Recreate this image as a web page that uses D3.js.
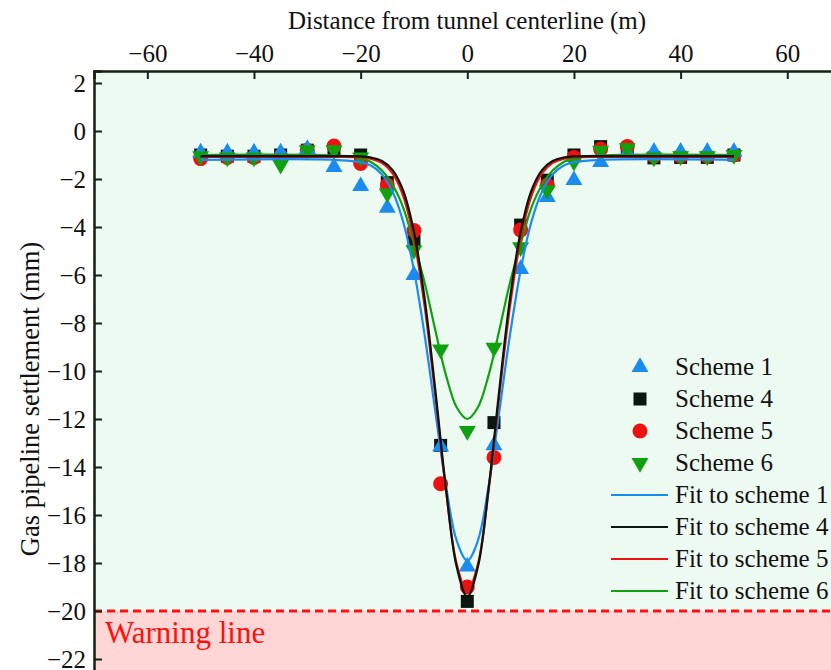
<!DOCTYPE html>
<html>
<head>
<meta charset="utf-8">
<script src="https://cdn.jsdelivr.net/npm/d3@7.9.0/dist/d3.min.js"></script>
<style>
  html, body { margin: 0; padding: 0; background: #fff; overflow: hidden; }
  svg { display: block; font-family: "Liberation Serif", "DejaVu Serif", serif; }
</style>
</head>
<body>
<svg id="chart" width="831" height="670"></svg>
<script>
// measured points, x = distance (m), y = settlement (mm)
var distances = [-50, -45, -40, -35, -30, -25, -20, -15, -10, -5, 0, 5, 10, 15, 20, 25, 30, 35, 40, 45, 50]
var scheme1 = [-0.9, -0.9, -0.9, -0.9, -0.75, -1.5, -2.3, -3.2, -6.0, -13.15, -18.15, -13.1, -5.75, -2.75, -2.05, -1.3, -0.9, -0.87, -0.87, -0.87, -0.87]
var scheme4 = [-1.0, -1.05, -1.05, -1.0, -0.8, -0.8, -1.0, -2.15, -4.57, -13.1, -19.6, -12.15, -3.92, -2.05, -1.0, -0.65, -0.75, -1.12, -1.1, -1.1, -1.0]
var scheme5 = [-1.15, -1.1, -1.1, -1.05, -0.8, -0.63, -1.35, -2.25, -4.15, -14.7, -19.0, -13.6, -4.12, -2.25, -1.1, -0.75, -0.65, -1.05, -1.05, -1.05, -1.0]
var scheme6 = [-1.05, -1.1, -1.1, -1.4, -0.8, -0.8, -1.1, -2.6, -4.96, -9.1, -12.5, -9.03, -4.84, -2.46, -1.28, -0.82, -0.71, -1.1, -1.05, -1.05, -1.0]

// fitted curves
var fitX = [-50, -25, -20, -18, -16, -14, -12, -10, -8, -6, -4, -2, 0, 2, 4, 6, 8, 10, 12, 14, 16, 18, 20, 25, 50]
var fit1 = [-1.2, -1.2, -1.3, -1.45, -1.81, -2.53, -3.8, -5.8, -8.5, -11.69, -14.78, -17.06, -17.9, -17.06, -14.78, -11.69, -8.5, -5.8, -3.8, -2.53, -1.81, -1.45, -1.3, -1.2, -1.2]
var fit4 = [-1.05, -1.05, -1.06, -1.11, -1.25, -1.63, -2.5, -4.21, -6.99, -10.79, -14.9, -18.15, -19.4, -18.15, -14.9, -10.79, -6.99, -4.21, -2.5, -1.63, -1.25, -1.11, -1.06, -1.05, -1.05]
var fit5 = [-1.08, -1.08, -1.1, -1.16, -1.33, -1.77, -2.72, -4.5, -7.31, -11.02, -14.96, -18.03, -19.2, -18.03, -14.96, -11.02, -7.31, -4.5, -2.72, -1.77, -1.33, -1.16, -1.1, -1.08, -1.08]
var fit6 = [-1.0, -1.02, -1.12, -1.3, -1.65, -2.25, -3.2, -4.7, -6.32, -8.3, -10.17, -11.51, -12.0, -11.51, -10.17, -8.3, -6.32, -4.7, -3.2, -2.25, -1.65, -1.3, -1.12, -1.02, -1.0]

var xTicks = [-60, -40, -20, 0, 20, 40, 60]
var yTicks = [2, 0, -2, -4, -6, -8, -10, -12, -14, -16, -18, -20, -22]
var warningLevel = -20

var COLORS = { s1: '#1a8cf0', s4: '#0a160e', s5: '#ee1111', s6: '#10a010' }

var svg = d3.select('#chart')
var plotLeft = 94, plotTop = 71
var W = 831, H = 670
var FS = 25

var x = d3.scaleLinear().domain([-70, 70]).range([plotLeft, 840.6])
var y = d3.scaleLinear().domain([2.5, -25]).range([plotTop, 731])

var axisColor = '#142014'

function fmt(d) { return d < 0 ? '\u2212' + Math.abs(d) : d }

// backgrounds
svg.append('rect')
    .attr('x', plotLeft).attr('y', plotTop)
    .attr('width', W - plotLeft).attr('height', y(warningLevel) - plotTop)
    .attr('fill', '#edfaf1')
svg.append('rect')
    .attr('x', plotLeft).attr('y', y(warningLevel))
    .attr('width', W - plotLeft).attr('height', H - y(warningLevel))
    .attr('fill', '#ffd6d6')

svg.append('line')
    .attr('x1', plotLeft).attr('x2', W)
    .attr('y1', y(warningLevel)).attr('y2', y(warningLevel))
    .attr('stroke', '#ff1010').attr('stroke-width', 3)
    .attr('stroke-dasharray', '8,5')

svg.append('text')
    .attr('x', 105).attr('y', 643)
    .attr('fill', '#ff1010').attr('font-size', 31)
    .text('Warning line')

// fit lines
var line = d3.line()
    .x(function (d) { return x(d[0]) })
    .y(function (d) { return y(d[1]) })
    .curve(d3.curveCatmullRom.alpha(0.5))

var fits = [
    { vals: fit1, color: COLORS.s1 },
    { vals: fit6, color: COLORS.s6 },
    { vals: fit5, color: COLORS.s5 },
    { vals: fit4, color: COLORS.s4 }
]

// markers
var triUp = d3.symbol().type(d3.symbolTriangle).size(125)
function drawMarkers(vals, kind, color) {
    var g = svg.append('g')
    var pts = distances.map(function (d, i) { return [d, vals[i]] })
    if (kind === 'up' || kind === 'down') {
        g.selectAll('path').data(pts).join('path')
            .attr('d', triUp())
            .attr('transform', function (d) {
                return 'translate(' + x(d[0]) + ',' + y(d[1]) + ')' + (kind === 'down' ? ' rotate(180)' : '')
            })
            .attr('fill', color)
    } else if (kind === 'square') {
        g.selectAll('rect').data(pts).join('rect')
            .attr('x', function (d) { return x(d[0]) - 6.5 })
            .attr('y', function (d) { return y(d[1]) - 6.5 })
            .attr('width', 13).attr('height', 13)
            .attr('fill', color)
    } else {
        g.selectAll('circle').data(pts).join('circle')
            .attr('cx', function (d) { return x(d[0]) })
            .attr('cy', function (d) { return y(d[1]) })
            .attr('r', 7.5)
            .attr('fill', color)
    }
}

drawMarkers(scheme4, 'square', COLORS.s4)
drawMarkers(scheme5, 'circle', COLORS.s5)
drawMarkers(scheme1, 'up', COLORS.s1)
drawMarkers(scheme6, 'down', COLORS.s6)

fits.forEach(function (f) {
    svg.append('path')
        .datum(fitX.map(function (d, i) { return [d, f.vals[i]] }))
        .attr('d', line)
        .attr('fill', 'none')
        .attr('stroke', f.color)
        .attr('stroke-width', 2.2)
})

// axes
var gx = svg.append('g').attr('transform', 'translate(0,' + plotTop + ')')
    .call(d3.axisTop(x).tickValues(xTicks).tickSize(-8).tickPadding(9).tickFormat(fmt))
var gy = svg.append('g').attr('transform', 'translate(' + plotLeft + ',0)')
    .call(d3.axisLeft(y).tickValues(yTicks).tickSize(-8).tickPadding(8).tickFormat(fmt))

;[gx, gy].forEach(function (g) {
    g.select('.domain').attr('stroke', axisColor).attr('stroke-width', 2.5)
    g.selectAll('.tick line').attr('stroke', axisColor).attr('stroke-width', 2)
    g.selectAll('.tick text')
        .attr('fill', '#111')
        .attr('font-size', FS)
        .attr('font-family', '"Liberation Serif", serif')
})
gx.selectAll('.tick text').attr('dy', 0)
gy.selectAll('.tick text').attr('dy', '0.33em')

svg.append('text')
    .attr('x', 467).attr('y', 29)
    .attr('text-anchor', 'middle')
    .attr('font-size', FS).attr('fill', '#111')
    .text('Distance from tunnel centerline (m)')

svg.append('text')
    .attr('transform', 'translate(39,399) rotate(-90)')
    .attr('text-anchor', 'middle')
    .attr('font-size', 26.5).attr('fill', '#111')
    .text('Gas pipeline settlement (mm)')

// legend
var legendItems = [
    { label: 'Scheme 1', kind: 'up', color: COLORS.s1 },
    { label: 'Scheme 4', kind: 'square', color: COLORS.s4 },
    { label: 'Scheme 5', kind: 'circle', color: COLORS.s5 },
    { label: 'Scheme 6', kind: 'down', color: COLORS.s6 },
    { label: 'Fit to scheme 1', kind: 'line', color: COLORS.s1 },
    { label: 'Fit to scheme 4', kind: 'line', color: COLORS.s4 },
    { label: 'Fit to scheme 5', kind: 'line', color: COLORS.s5 },
    { label: 'Fit to scheme 6', kind: 'line', color: COLORS.s6 }
]
var lg = svg.append('g')
legendItems.forEach(function (L, i) {
    var cy = 367 + i * 32
    var mx = 640
    if (L.kind === 'line') {
        lg.append('line').attr('x1', 611).attr('x2', 668).attr('y1', cy).attr('y2', cy)
            .attr('stroke', L.color).attr('stroke-width', 2.2)
    } else if (L.kind === 'square') {
        lg.append('rect').attr('x', mx - 6.5).attr('y', cy - 6.5).attr('width', 13).attr('height', 13).attr('fill', L.color)
    } else if (L.kind === 'circle') {
        lg.append('circle').attr('cx', mx).attr('cy', cy).attr('r', 7.5).attr('fill', L.color)
    } else {
        lg.append('path').attr('d', triUp())
            .attr('transform', 'translate(' + mx + ',' + cy + ')' + (L.kind === 'down' ? ' rotate(180)' : ''))
            .attr('fill', L.color)
    }
    lg.append('text').attr('x', 675).attr('y', cy).attr('dy', '0.33em')
        .attr('font-size', FS).attr('fill', '#111')
        .text(L.label)
})
</script>
</body>
</html>
